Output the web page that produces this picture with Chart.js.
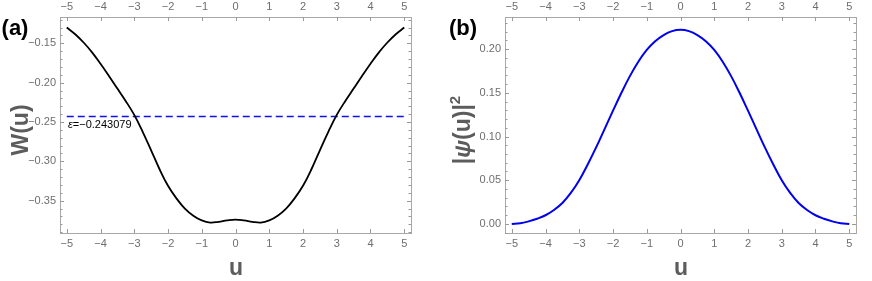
<!DOCTYPE html>
<html>
<head>
<meta charset="utf-8">
<script src="https://cdn.jsdelivr.net/npm/chart.js@4.4.1/dist/chart.umd.min.js"></script>
<style>
  html, body { margin: 0; padding: 0; background: #fff; }
  #wrap { position: relative; width: 872px; height: 281px; }
  canvas { position: absolute; top: 0; }
</style>
</head>
<body>
<div id="wrap">
  <canvas id="chartA" width="436" height="281" style="left:0"></canvas>
  <canvas id="chartB" width="436" height="281" style="left:436px"></canvas>
</div>
<script>
// data
const uValues = [-5, -4.75, -4.5, -4.25, -4, -3.75, -3.5, -3.25, -3, -2.75, -2.5, -2.25, -2, -1.75, -1.5, -1.25, -1, -0.75, -0.5, -0.25,
  0, 0.25, 0.5, 0.75, 1, 1.25, 1.5, 1.75, 2, 2.25, 2.5, 2.75, 3, 3.25, 3.5, 3.75, 4, 4.25, 4.5, 4.75, 5];
const wValues = [-0.130, -0.1385, -0.149, -0.1615, -0.176, -0.1915, -0.2075, -0.2235, -0.241, -0.2625, -0.286, -0.310, -0.331, -0.347, -0.360, -0.369, -0.375, -0.3778, -0.3768, -0.3750,
  -0.3740, -0.3750, -0.3768, -0.3778, -0.375, -0.369, -0.360, -0.347, -0.331, -0.310, -0.286, -0.2625, -0.241, -0.2235, -0.2075, -0.1915, -0.176, -0.1615, -0.149, -0.1385, -0.130];
const psiValues = [0.000, 0.0008, 0.003, 0.006, 0.010, 0.016, 0.024, 0.0355, 0.050, 0.068, 0.0875, 0.1085, 0.1295, 0.150, 0.169, 0.1855, 0.199, 0.209, 0.216, 0.2205,
  0.222, 0.2205, 0.216, 0.209, 0.199, 0.1855, 0.169, 0.150, 0.1295, 0.1085, 0.0875, 0.068, 0.050, 0.0355, 0.024, 0.016, 0.010, 0.006, 0.003, 0.0008, 0.000];
const epsilon = -0.243079;
const epsilonU = [-5, 5];
const xTickValues = [-5, -4, -3, -2, -1, 0, 1, 2, 3, 4, 5];
const wTickValues = [-0.35, -0.30, -0.25, -0.20, -0.15];
const psiTickValues = [0, 0.05, 0.10, 0.15, 0.20];

const tickColor = '#6e6e6e';
const frameColor = '#a8a8a8';
const titleColor = '#5c5c5c';
const fontName = '"Liberation Sans", Arial, sans-serif';

function minus(s) {
  return s.replace('-', '\u2212');
}

// Mathematica style ticks pointing into the frame
const frameTicks = {
  id: 'frameTicks',
  afterDraw(chart) {
    const { ctx, chartArea: a, scales } = chart;
    ctx.save();
    ctx.strokeStyle = '#9a9a9a';
    ctx.lineWidth = 1;
    const seg = (x1, y1, x2, y2) => {
      ctx.beginPath(); ctx.moveTo(x1, y1); ctx.lineTo(x2, y2); ctx.stroke();
    };
    xTickValues.forEach(v => {
      const px = Math.round(scales.x.getPixelForValue(v)) + 0.5;
      seg(px, a.bottom, px, a.bottom - 4);
      seg(px, a.top, px, a.top + 4);
    });
    const y = scales.y;
    for (let k = Math.ceil(y.min * 100); k <= Math.floor(y.max * 100); k++) {
      const py = Math.round(y.getPixelForValue(k / 100)) + 0.5;
      const len = (k % 5 === 0) ? 4 : 2.5;
      seg(a.left, py, a.left + len, py);
      seg(a.right, py, a.right - len, py);
    }
    ctx.restore();
  }
};

// panel letters, axis titles, the epsilon note
// an item is a list of [text, font] parts drawn one after another
const panelText = {
  id: 'panelText',
  afterDraw(chart, args, opts) {
    const ctx = chart.ctx;
    (opts.items || []).forEach(t => {
      ctx.save();
      ctx.translate(t.x, t.y);
      if (t.rotate) ctx.rotate(t.rotate);
      ctx.fillStyle = t.color;
      ctx.textAlign = 'left';
      ctx.textBaseline = 'middle';
      let total = 0;
      t.parts.forEach(p => { ctx.font = p[1]; total += ctx.measureText(p[0]).width; });
      let x = t.align === 'left' ? 0 : -total / 2;
      t.parts.forEach(p => {
        ctx.font = p[1];
        ctx.fillText(p[0], x, p[2] || 0);
        x += ctx.measureText(p[0]).width;
      });
      ctx.restore();
    });
  }
};

function makePanel(canvasId, datasets, yMin, yMax, yTicks, leftW, rightW, texts) {
  const setTicks = vals => scale => { scale.ticks = vals.map(v => ({ value: v })); };
  const tickFont = { family: fontName, size: 11 };
  return new Chart(document.getElementById(canvasId), {
    type: 'line',
    data: { datasets: datasets },
    options: {
      responsive: false,
      animation: false,
      layout: { padding: 0 },
      plugins: { legend: { display: false }, tooltip: { enabled: false }, panelText: { items: texts } },
      scales: {
        x: {
          type: 'linear', position: 'bottom', min: -5.2, max: 5.2,
          afterBuildTicks: setTicks(xTickValues),
          afterFit: s => { s.height = 48; },
          grid: { display: false, drawTicks: false },
          border: { display: true, color: frameColor },
          ticks: { color: tickColor, font: tickFont, padding: 4, maxRotation: 0, callback: v => minus(String(v)) }
        },
        x2: {
          type: 'linear', position: 'top', min: -5.2, max: 5.2,
          afterBuildTicks: setTicks(xTickValues),
          afterFit: s => { s.height = 17; },
          grid: { display: false, drawTicks: false },
          border: { display: true, color: frameColor },
          ticks: { color: tickColor, font: tickFont, padding: 3, maxRotation: 0, callback: v => minus(String(v)) }
        },
        y: {
          type: 'linear', position: 'left', min: yMin, max: yMax,
          afterBuildTicks: setTicks(yTicks),
          afterFit: s => { s.width = leftW; },
          grid: { display: false, drawTicks: false },
          border: { display: true, color: frameColor },
          ticks: { color: tickColor, font: tickFont, padding: 4, callback: v => minus(v.toFixed(2)) }
        },
        y2: {
          type: 'linear', position: 'right', min: yMin, max: yMax,
          afterFit: s => { s.width = rightW; },
          grid: { display: false, drawTicks: false },
          border: { display: true, color: frameColor },
          ticks: { display: false }
        }
      }
    },
    plugins: [frameTicks, panelText]
  });
}

const titleFont = 'bold 23px ' + fontName;
const letterFont = 'bold 22px ' + fontName;

makePanel('chartA', [
  {
    data: uValues.map((u, i) => ({ x: u, y: wValues[i] })),
    borderColor: '#000', borderWidth: 1.8, pointRadius: 0, tension: 0.4
  },
  {
    data: epsilonU.map(u => ({ x: u, y: epsilon })),
    borderColor: '#1010f0', borderWidth: 1.6, borderDash: [7, 4], pointRadius: 0
  }
], -0.3910, -0.1166, wTickValues, 60, 25, [
  { parts: [['(a)', letterFont]], x: 15, y: 29, color: '#000' },
  { parts: [['W(u)', titleFont]], x: 22, y: 130, rotate: -Math.PI / 2, color: titleColor },
  { parts: [['u', titleFont]], x: 236, y: 269, color: titleColor },
  { parts: [['\u03B5', 'italic 11px ' + fontName], ['=\u22120.243079', '11px ' + fontName]], x: 68, y: 125, align: 'left', color: '#000' }
]);

makePanel('chartB', [
  {
    data: uValues.map((u, i) => ({ x: u, y: psiValues[i] })),
    borderColor: '#0000ee', borderWidth: 2, pointRadius: 0, tension: 0.4
  }
], -0.0103, 0.2366, psiTickValues, 69, 16, [
  { parts: [['(b)', letterFont]], x: 27, y: 29, color: '#000' },
  { parts: [['|', titleFont], ['\u03C8', 'italic bold 23px ' + fontName], ['(u)|', titleFont], ['2', 'bold 15px ' + fontName, -8]],
    x: 28, y: 130, rotate: -Math.PI / 2, color: titleColor },
  { parts: [['u', titleFont]], x: 245, y: 269, color: titleColor }
]);
</script>
</body>
</html>
